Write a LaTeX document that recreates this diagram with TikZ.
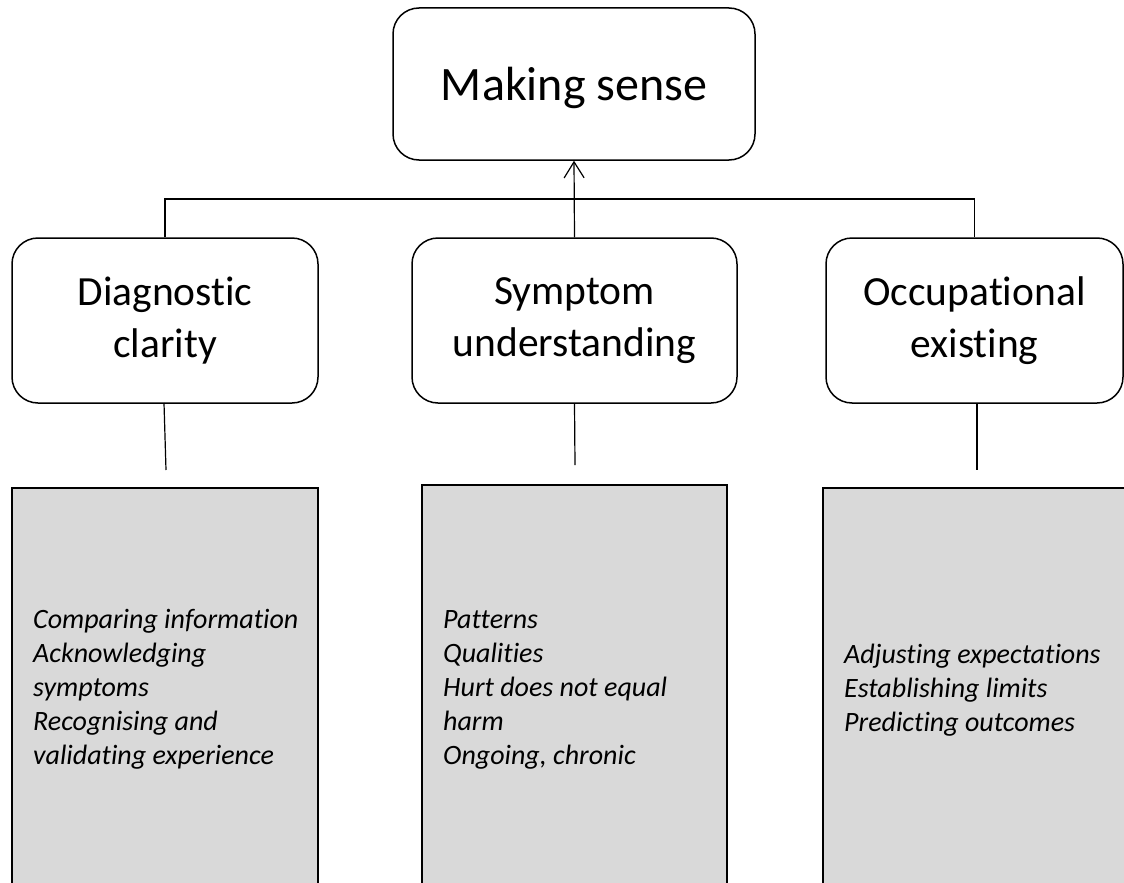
\documentclass[tikz,border=0pt]{standalone}
\usepackage{fontspec}
\setmainfont{Carlito}[Ligatures=NoCommon]
\usetikzlibrary{arrows.meta}

\definecolor{boxgrey}{HTML}{D9D9D9}
\tikzset{
  headbox/.style={draw, line width=1.5pt, rounded corners=26pt, align=center,
    font=\fontsize{48}{58}\selectfont, inner sep=0pt,
    text height=32pt, text depth=0pt},
  themebox/.style={draw, line width=1.5pt, rounded corners=26pt, align=center,
    font=\fontsize{41.5}{52}\selectfont, inner sep=0pt},
  greybox/.style={draw, line width=1.5pt, fill=boxgrey},
  itemtext/.style={align=left, font=\fontsize{28}{34}\selectfont\itshape,
    inner sep=0pt, anchor=base west},
  link/.style={line width=1.2pt},
}

\begin{document}
\begin{tikzpicture}[x=1pt, y=-1pt]
  \useasboundingbox (0,0) rectangle (1124,883);
  \clip (0,0) rectangle (1124,883);

  % top level
  \node[headbox, minimum width=362pt, minimum height=152pt] (top) at (574,84) {Making sense};

  % three themes
  \node[themebox, minimum width=306pt, minimum height=165pt] (diag) at (165,320.5) {Diagnostic\\clarity};
  \node[themebox, minimum width=325pt, minimum height=165pt] (symp) at (574.5,320.5) {Symptom\\understanding};
  \node[themebox, minimum width=297pt, minimum height=165pt] (occu) at (974.5,320.5) {Occupational\\existing};

  % sub-theme panels (running past the lower edge)
  \draw[greybox] (12,488) rectangle (318,900);
  \draw[greybox] (422,485) rectangle (727,900);
  \draw[greybox] (823,488) rectangle (1140,900);

  % item lists, placed by the baseline of their last line
  \node[itemtext] (diagitems) at (33,764)
    {Comparing information\\Acknowledging\\symptoms\\Recognising and\\validating experience};
  \node[itemtext] (sympitems) at (443,764)
    {Patterns\\Qualities\\Hurt does not equal\\harm\\Ongoing, chronic};
  \node[itemtext] (occuitems) at (844,731)
    {Adjusting expectations\\Establishing limits\\Predicting outcomes};

  % tree connectors
  \coordinate (bar) at (575,199);
  \draw[link] (diag.north) |- (bar) -| (occu.north);
  \draw[link, -{Straight Barb[length=16pt, width=20pt, line width=1.2pt]}] (symp.north) -- (top.south);

  % stubs below the themes
  \coordinate (diagend) at (166,470);
  \coordinate (sympend) at (575,465);
  \coordinate (occuend) at (977,470);
  \draw[link] (164,403) -- (diagend);
  \draw[link] (symp.south) -- (sympend);
  \draw[link] (977,403) -- (occuend);
\end{tikzpicture}
\end{document}
